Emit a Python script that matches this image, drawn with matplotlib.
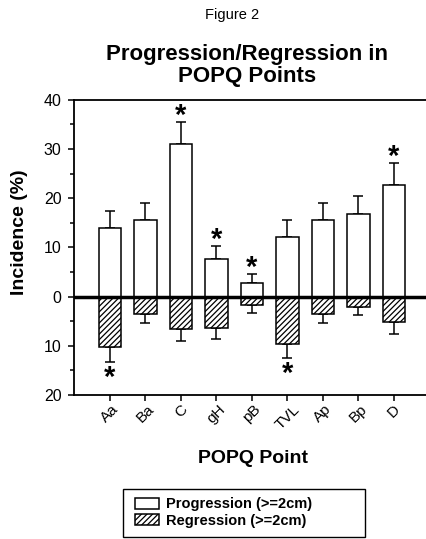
import numpy as np
from matplotlib import pyplot as plt
from matplotlib.patches import Rectangle

plt.rcParams['font.family'] = ['Liberation Sans', 'DejaVu Sans']
plt.rcParams['hatch.linewidth'] = 0.9

points = ["Aa", "Ba", "C", "gH", "pB", "TVL", "Ap", "Bp", "D"]
progression = [14.0, 15.5, 31.0, 7.6, 2.7, 12.2, 15.5, 16.8, 22.7]
progression_err = [3.4, 3.6, 4.5, 2.7, 1.8, 3.3, 3.6, 3.7, 4.5]
regression = [10.2, 3.5, 6.6, 6.3, 1.8, 9.7, 3.5, 2.2, 5.1]
regression_err = [3.0, 1.8, 2.4, 2.4, 1.5, 2.8, 1.8, 1.5, 2.4]
prog_star = [False, False, True, True, True, False, False, False, True]
reg_star = [True, False, False, False, False, True, False, False, False]

fig = plt.figure(figsize=(4.26, 5.39), dpi=100)
ax = fig.add_axes([0.174, 0.267, 0.84, 0.548])

x = np.arange(len(points))
w = 0.64
up = np.array(progression)
down = -np.array(regression)

ax.bar(x, up, w, color="white", edgecolor="black", linewidth=1.1,
       label="Progression (>=2cm)", zorder=2)
ax.bar(x, down, w, color="white", edgecolor="black", linewidth=1.1,
       hatch="//////", label="Regression (>=2cm)", zorder=2)
ax.errorbar(x, up, yerr=[np.zeros(len(x)), progression_err], fmt="none",
            ecolor="black", elinewidth=1.1, capsize=3.5, capthick=1.1, zorder=1)
ax.errorbar(x, down, yerr=[regression_err, np.zeros(len(x))], fmt="none",
            ecolor="black", elinewidth=1.1, capsize=3.5, capthick=1.1, zorder=1)

# significance stars
for i in range(len(x)):
    if prog_star[i]:
        ax.text(x[i], up[i] + progression_err[i] - 1.6, "*", ha="center",
                va="bottom", fontsize=21, fontweight="bold")
    if reg_star[i]:
        ax.text(x[i], down[i] - regression_err[i] - 6.1, "*", ha="center",
                va="bottom", fontsize=21, fontweight="bold")

ax.axhline(0, color="black", linewidth=2.5, zorder=3)

ax.set_xlim(-1.01, 9.07)
ax.set_ylim(-20, 40)
ax.set_yticks([-20, -10, 0, 10, 20, 30, 40])
ax.set_yticklabels(["20", "10", "0", "10", "20", "30", "40"], fontsize=11.5)
ax.set_yticks(np.arange(-15, 40, 10), minor=True)
ax.set_xticks(x)
ax.set_xticklabels(points, rotation=45, fontsize=11, ha="center")
ax.tick_params(axis="y", which="major", direction="out", length=4, width=1.1, pad=5)
ax.tick_params(axis="x", which="major", direction="out", length=4, width=1.1, pad=1)
ax.tick_params(axis="y", which="minor", direction="out", length=3, width=1.1)
for s in ax.spines.values():
    s.set_linewidth(1.3)
ax.spines["right"].set_visible(False)

ax.set_ylabel("Incidence (%)", fontsize=14, fontweight="bold")
ax.yaxis.set_label_coords(-0.13, 0.553)
ax.set_xlabel("POPQ Point", fontsize=14, fontweight="bold", labelpad=13)

fig.text(0.545, 0.972, "Figure 2", ha="center", va="center", fontsize=10.5)
fig.text(0.58, 0.879, "Progression/Regression in\nPOPQ Points", ha="center",
         va="center", fontsize=16, fontweight="bold", linespacing=1.05)

# legend text without its own frame, box drawn separately (wider than the text)
leg = fig.legend(loc="center left", bbox_to_anchor=(0.318, 0.049),
                 prop={"weight": "bold", "size": 10.5}, frameon=False,
                 handlelength=1.6, handleheight=0.75, borderpad=0,
                 labelspacing=0.15, handletextpad=0.5, borderaxespad=0)
fig.patches.append(Rectangle((123 / 426, 2 / 539), 242 / 426, 48 / 539,
                             transform=fig.transFigure, fill=False,
                             edgecolor="black", linewidth=1.0))

fig.savefig("out.png", dpi=100)
